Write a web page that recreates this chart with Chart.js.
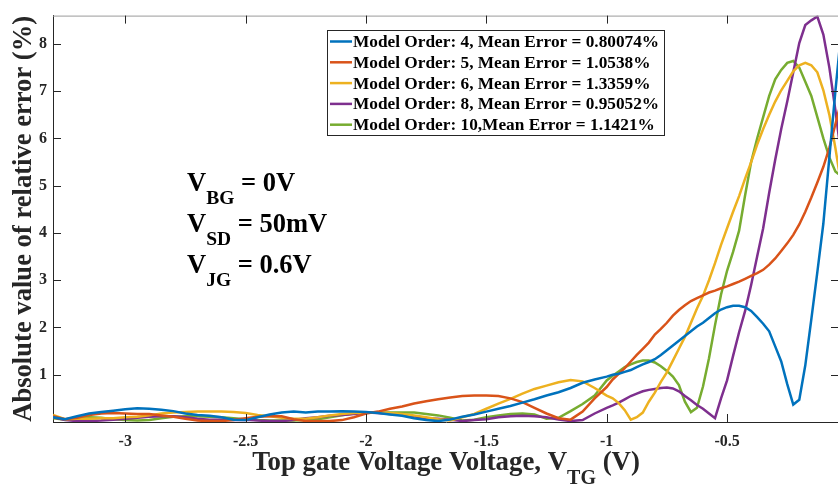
<!DOCTYPE html>
<html>
<head>
<meta charset="utf-8">
<script src="https://cdn.jsdelivr.net/npm/chart.js@4/dist/chart.umd.min.js"></script>
<style>
  html, body { margin: 0; padding: 0; background: #fff; overflow: hidden; }
  #wrap { width: 838px; height: 489px; overflow: hidden; position: relative; }
  canvas { display: block; }
</style>
</head>
<body>
<div id="wrap"><canvas id="errChart" width="842" height="489"></canvas></div>
<script>
// Top gate voltage (V)
const xVals = [
  -3.3, -3.25, -3.2, -3.15, -3.1, -3.05, -3.0, -2.95, -2.9, -2.85,
  -2.8, -2.75, -2.7, -2.65, -2.6, -2.55, -2.5, -2.45, -2.4, -2.35,
  -2.3, -2.25, -2.2, -2.15, -2.1, -2.05, -2.0, -1.95, -1.9, -1.85,
  -1.8, -1.75, -1.7, -1.65, -1.6, -1.55, -1.5, -1.45, -1.4, -1.35,
  -1.3, -1.25, -1.2, -1.15, -1.1, -1.05, -1.0,
  -0.975, -0.95, -0.925, -0.9, -0.875, -0.85, -0.825, -0.8, -0.775, -0.75,
  -0.725, -0.7, -0.675, -0.65, -0.625, -0.6, -0.575, -0.55, -0.525, -0.5,
  -0.475, -0.45, -0.425, -0.4, -0.375, -0.35, -0.325, -0.3, -0.275, -0.25,
  -0.225, -0.2, -0.175, -0.15, -0.125, -0.1, -0.075, -0.05, -0.025,
];

// Absolute relative error (%) per model order
const order4 = [
  0.1, 0.06, 0.12, 0.18, 0.21, 0.24, 0.27, 0.29, 0.28, 0.26,
  0.23, 0.18, 0.15, 0.13, 0.1, 0.05, 0.04, 0.1, 0.16, 0.2,
  0.22, 0.2, 0.22, 0.22, 0.23, 0.22, 0.21, 0.19, 0.16, 0.13,
  0.08, 0.04, 0.02, 0.05, 0.11, 0.16, 0.22, 0.28, 0.34, 0.41,
  0.48, 0.56, 0.63, 0.72, 0.83, 0.9, 0.96,
  1.0, 1.02, 1.06, 1.1, 1.16, 1.22, 1.27, 1.33, 1.42, 1.52,
  1.62, 1.72, 1.82, 1.92, 2.02, 2.1, 2.2, 2.3, 2.38, 2.43,
  2.46, 2.46, 2.43, 2.35, 2.22, 2.08, 1.92, 1.6, 1.28, 0.8,
  0.37, 0.47, 1.2, 2.17, 3.17, 4.2, 5.6, 7.0, 8.3,
];
const order5 = [
  0.12, 0.06, 0.09, 0.15, 0.18, 0.19, 0.18, 0.17, 0.17, 0.14,
  0.11, 0.07, 0.03, 0.02, 0.02, 0.04, 0.08, 0.11, 0.12, 0.12,
  0.06, 0.02, 0.02, 0.02, 0.04, 0.1, 0.18, 0.22, 0.28, 0.33,
  0.39, 0.44, 0.48, 0.52, 0.55, 0.56, 0.56, 0.55, 0.5, 0.42,
  0.3, 0.18, 0.08, 0.05, 0.22, 0.5, 0.74,
  0.9, 1.02, 1.14, 1.28, 1.42, 1.55, 1.68, 1.85, 1.97, 2.1,
  2.25, 2.37, 2.47, 2.56, 2.62, 2.68, 2.74, 2.78, 2.83, 2.87,
  2.92, 2.97, 3.03, 3.09, 3.15, 3.22, 3.33, 3.46, 3.62, 3.78,
  3.96, 4.18, 4.45, 4.75, 5.07, 5.4, 5.8, 6.3, 6.8,
];
const order6 = [
  0.15, 0.06, 0.07, 0.07, 0.08, 0.08, 0.1, 0.11, 0.14, 0.18,
  0.2, 0.21, 0.22, 0.22, 0.22, 0.21, 0.19, 0.15, 0.12, 0.09,
  0.07, 0.07, 0.1, 0.14, 0.17, 0.19, 0.2, 0.2, 0.19, 0.17,
  0.14, 0.1, 0.06, 0.03, 0.1, 0.17, 0.28, 0.39, 0.49, 0.6,
  0.7, 0.77, 0.84, 0.89, 0.86, 0.72, 0.56,
  0.5, 0.4, 0.25, 0.05, 0.1, 0.2, 0.43, 0.62, 0.85, 1.05,
  1.3, 1.55, 1.8, 2.1, 2.4, 2.67, 3.0, 3.36, 3.75, 4.1,
  4.45, 4.78, 5.15, 5.5, 5.87, 6.2, 6.5, 6.78, 7.02, 7.22,
  7.42, 7.55, 7.6, 7.55, 7.4, 7.02, 6.5, 5.8, 5.0,
];
const order8 = [
  0.1, 0.04, 0.02, 0.02, 0.03, 0.05, 0.07, 0.09, 0.11, 0.12,
  0.12, 0.1, 0.07, 0.05, 0.05, 0.04, 0.05, 0.03, 0.02, 0.02,
  0.04, 0.08, 0.1, 0.13, 0.15, 0.17, 0.2, 0.19, 0.17, 0.15,
  0.12, 0.08, 0.07, 0.05, 0.02, 0.04, 0.06, 0.1, 0.12, 0.13,
  0.12, 0.1, 0.05, 0.02, 0.04, 0.18, 0.3,
  0.35, 0.41, 0.48, 0.55, 0.6, 0.65, 0.68, 0.7, 0.72, 0.73,
  0.71, 0.65, 0.55, 0.46, 0.36, 0.28, 0.18, 0.08, 0.5, 0.88,
  1.4, 1.9, 2.35, 2.9, 3.5, 4.1, 4.85, 5.55, 6.2, 6.78,
  7.4, 8.02, 8.4, 8.5, 8.58, 8.2, 7.5, 6.6, 5.6,
];
const order10 = [
  0.08, 0.05, 0.1, 0.1, 0.09, 0.06, 0.04, 0.03, 0.04, 0.08,
  0.11, 0.12, 0.12, 0.11, 0.1, 0.08, 0.06, 0.04, 0.03, 0.03,
  0.03, 0.04, 0.06, 0.1, 0.14, 0.18, 0.2, 0.2, 0.2, 0.2,
  0.2, 0.17, 0.14, 0.09, 0.03, 0.05, 0.1, 0.14, 0.17, 0.18,
  0.16, 0.07, 0.09, 0.23, 0.38, 0.56, 0.88,
  0.98, 1.07, 1.16, 1.22, 1.27, 1.3, 1.3, 1.26, 1.18, 1.08,
  0.96, 0.78, 0.43, 0.21, 0.3, 0.75, 1.35, 2.05, 2.7, 3.2,
  3.6, 4.05, 4.8, 5.5, 6.0, 6.45, 6.9, 7.25, 7.45, 7.6,
  7.64, 7.5, 7.2, 6.9, 6.45, 6.0, 5.6, 5.3, 5.2,
];

const seriesLabels = [
  "Model Order: 4, Mean Error = 0.80074%",
  "Model Order: 5, Mean Error = 1.0538%",
  "Model Order: 6, Mean Error = 1.3359%",
  "Model Order: 8, Mean Error = 0.95052%",
  "Model Order: 10,Mean Error = 1.1421%",
];
const seriesColors = ["#0072BD", "#D95319", "#EDB120", "#7E2F8E", "#77AC30"];

const xTicks = [-3, -2.5, -2, -1.5, -1, -0.5];
const yTicks = [1, 2, 3, 4, 5, 6, 7, 8];

// V_BG, V_SD, V_JG bias notes
const biasNames = ["BG", "SD", "JG"];
const biasValues = ["0V", "50mV", "0.6V"];

const SERIF = '"Liberation Serif", "Times New Roman", serif';
const AXIS_COLOR = "#262626";

function toPoints(ys) {
  return xVals.map((x, i) => ({ x: x, y: ys[i] }));
}

// 본문 + 아래첨자 텍스트 그리기
function drawSubText(ctx, x, y, parts) {
  let cx = x;
  parts.forEach((p) => {
    ctx.font = `bold ${p.size}px ${SERIF}`;
    ctx.fillText(p.text, cx, y + (p.drop || 0));
    cx += ctx.measureText(p.text).width;
  });
  return cx;
}

function measureParts(ctx, parts) {
  let w = 0;
  parts.forEach((p) => {
    ctx.font = `bold ${p.size}px ${SERIF}`;
    w += ctx.measureText(p.text).width;
  });
  return w;
}

const framePlugin = {
  id: "frame",
  afterDraw(chart) {
    const ctx = chart.ctx;
    const area = chart.chartArea;
    const xs = chart.scales.x;
    const ys = chart.scales.y;
    ctx.save();

    // top border (box)
    ctx.strokeStyle = "#9a9a9a";
    ctx.lineWidth = 1;
    ctx.beginPath();
    ctx.moveTo(area.left, area.top + 0.5);
    ctx.lineTo(area.right, area.top + 0.5);
    ctx.stroke();

    // inner tick marks on all sides
    ctx.strokeStyle = AXIS_COLOR;
    ctx.beginPath();
    xTicks.forEach((v) => {
      const px = Math.round(xs.getPixelForValue(v)) + 0.5;
      ctx.moveTo(px, area.bottom);
      ctx.lineTo(px, area.bottom - 8);
      ctx.moveTo(px, area.top);
      ctx.lineTo(px, area.top + 8);
    });
    yTicks.forEach((v) => {
      const py = Math.round(ys.getPixelForValue(v)) + 0.5;
      ctx.moveTo(area.left, py);
      ctx.lineTo(area.left + 8, py);
      ctx.moveTo(area.right, py);
      ctx.lineTo(area.right - 8, py);
    });
    ctx.stroke();

    // legend
    const lx = 327, ly = 30, lw = 337, lh = 105;
    ctx.fillStyle = "#fff";
    ctx.fillRect(lx, ly, lw, lh);
    ctx.strokeStyle = AXIS_COLOR;
    ctx.lineWidth = 1;
    ctx.strokeRect(lx + 0.5, ly + 0.5, lw, lh);
    chart.data.datasets.forEach((ds, i) => {
      const rowY = 41.5 + i * 20.8;
      ctx.strokeStyle = ds.borderColor;
      ctx.lineWidth = 2.5;
      ctx.beginPath();
      ctx.moveTo(330, rowY);
      ctx.lineTo(352, rowY);
      ctx.stroke();
      ctx.fillStyle = "#000";
      ctx.font = `bold 17.3px ${SERIF}`;
      ctx.textBaseline = "middle";
      ctx.fillText(ds.label, 353, rowY + 1);
    });

    // bias annotations
    ctx.fillStyle = "#000";
    ctx.textBaseline = "alphabetic";
    biasNames.forEach((name, i) => {
      const base = 191 + i * 41;
      drawSubText(ctx, 187, base, [
        { text: "V", size: 26.5 },
        { text: name, size: 19.5, drop: 13 },
        { text: " = " + biasValues[i], size: 26.5 },
      ]);
    });

    // x axis title
    ctx.fillStyle = AXIS_COLOR;
    const xParts = [
      { text: "Top gate Voltage Voltage, V", size: 26.8 },
      { text: "TG", size: 20, drop: 14 },
      { text: " (V)", size: 26.8 },
    ];
    const cx = (area.left + area.right) / 2;
    const w = measureParts(ctx, xParts);
    drawSubText(ctx, cx - w / 2, 470, xParts);

    // y axis title
    ctx.save();
    ctx.translate(24, (area.top + area.bottom) / 2);
    ctx.rotate(-Math.PI / 2);
    ctx.font = `bold 26.6px ${SERIF}`;
    ctx.textAlign = "center";
    ctx.textBaseline = "middle";
    ctx.fillText("Absolute value of relative error (%)", 0, 0);
    ctx.restore();

    ctx.restore();
  },
};

const allSeries = [order4, order5, order6, order8, order10];

new Chart(document.getElementById("errChart"), {
  type: "line",
  data: {
    datasets: allSeries.map((ys, i) => ({
      label: seriesLabels[i],
      data: toPoints(ys),
      borderColor: seriesColors[i],
      backgroundColor: seriesColors[i],
      borderWidth: 2.5,
      pointRadius: 0,
      tension: 0,
      fill: false,
    })),
  },
  options: {
    responsive: false,
    animation: false,
    devicePixelRatio: 1,
    layout: { padding: { top: 6, right: 3, left: 0, bottom: 0 } },
    plugins: {
      legend: { display: false },
      tooltip: { enabled: false },
    },
    scales: {
      x: {
        type: "linear",
        min: -3.3,
        max: -0.035,
        afterBuildTicks: (scale) => {
          scale.ticks = xTicks.map((v) => ({ value: v }));
        },
        afterFit: (scale) => {
          scale.height = 67;
        },
        ticks: {
          callback: (v) => String(v),
          color: AXIS_COLOR,
          font: { family: SERIF, size: 16, weight: "bold" },
          padding: 10,
          maxRotation: 0,
        },
        grid: { display: false, drawTicks: false },
        border: { display: true, color: AXIS_COLOR, width: 1 },
      },
      y: {
        min: 0,
        max: 8.6,
        afterBuildTicks: (scale) => {
          scale.ticks = yTicks.map((v) => ({ value: v }));
        },
        afterFit: (scale) => {
          scale.width = 53;
        },
        ticks: {
          callback: (v) => String(v),
          color: AXIS_COLOR,
          font: { family: SERIF, size: 16, weight: "bold" },
          padding: 6,
        },
        grid: { display: false, drawTicks: false },
        border: { display: true, color: AXIS_COLOR, width: 1 },
      },
    },
  },
  plugins: [framePlugin],
});
</script>
</body>
</html>
